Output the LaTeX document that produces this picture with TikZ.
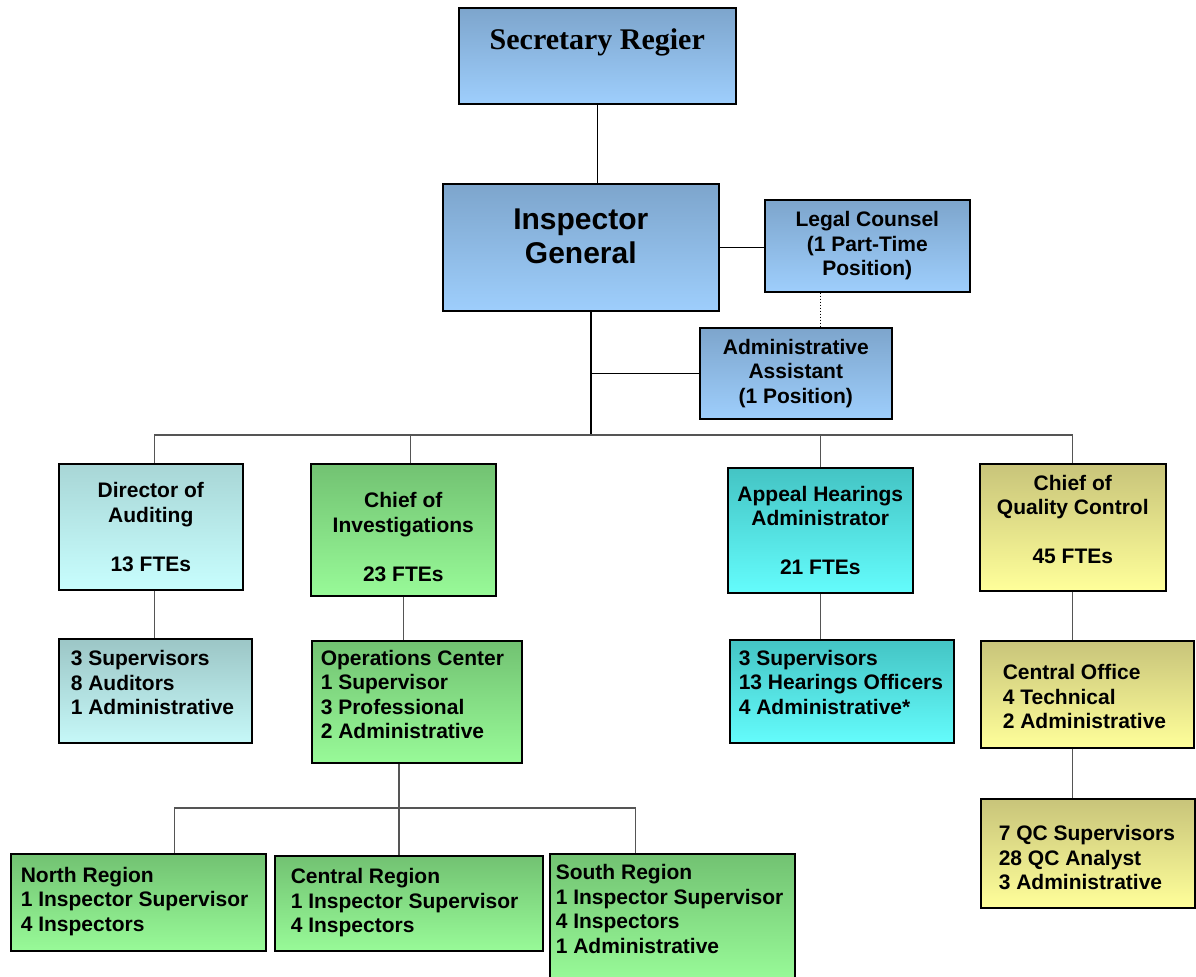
\documentclass[tikz,border=0pt]{standalone}
\usepackage{fontspec}
\setsansfont{Liberation Sans}
\newfontfamily\headserif{Liberation Serif}
\usetikzlibrary{positioning}
\definecolor{cBlueTop}{HTML}{7DA5CC}
\definecolor{cBlueBot}{HTML}{9ECEFC}
\definecolor{cAudTop}{HTML}{A8D6D6}
\definecolor{cAudBot}{HTML}{C8FEFE}
\definecolor{cAudSubTop}{HTML}{9CC6C6}
\definecolor{cAudSubBot}{HTML}{C6F8F8}
\definecolor{cInvTop}{HTML}{72C272}
\definecolor{cInvBot}{HTML}{98FA98}
\definecolor{cAppTop}{HTML}{44C4C4}
\definecolor{cAppBot}{HTML}{64FCFC}
\definecolor{cQcTop}{HTML}{C8C47A}
\definecolor{cQcBot}{HTML}{FFFF9A}
\definecolor{cLine}{HTML}{555555}
% invisible struts to nudge text inside a box
\newcommand{\padbelow}[1]{\rule[-#1]{0pt}{0pt}}
\newcommand{\padabove}[1]{\rule{0pt}{#1}}

\begin{document}
\begin{tikzpicture}[
    x=1bp, y=-1bp,
    % Core box styles
    box/.style={rectangle, draw=black, line width=1.6bp, inner sep=4bp, anchor=north west, font=\sffamily\bfseries\fontsize{21bp}{24.5bp}\selectfont},
    head_box/.style={box, align=center},
    list_box/.style={box, align=flush left},
    % Fills
    blue_fill/.style={top color=cBlueTop, bottom color=cBlueBot},
    aud_fill/.style={top color=cAudTop, bottom color=cAudBot},
    aud_sub_fill/.style={top color=cAudSubTop, bottom color=cAudSubBot},
    inv_fill/.style={top color=cInvTop, bottom color=cInvBot},
    app_fill/.style={top color=cAppTop, bottom color=cAppBot},
    qc_fill/.style={top color=cQcTop, bottom color=cQcBot},
    % Connector styles
    link/.style={line width=1.6bp, color=black},
    branch/.style={line width=1.1bp, color=cLine}
]
\useasboundingbox (0,0) rectangle (1196,977);

% --- TOP LEVEL ---
\node[head_box, blue_fill, minimum width=277bp, minimum height=96bp, text depth=34bp, font=\headserif\bfseries\fontsize{30bp}{34bp}\selectfont] (sec) at (458,7) {Secretary Regier};
\node[head_box, blue_fill, minimum width=276bp, minimum height=127bp, text depth=22bp, font=\sffamily\bfseries\fontsize{30bp}{34bp}\selectfont] (ig) at (442,183) {Inspector\\General};
\node[head_box, blue_fill, minimum width=205bp, minimum height=92bp] (legal) at (764,199) {Legal Counsel\\(1 Part-Time\\Position)};
\node[head_box, blue_fill, minimum width=192bp, minimum height=91bp] (adm) at (699,327) {Administrative\\Assistant\\(1 Position)};

% --- DIVISIONS ---
\node[head_box, aud_fill, minimum width=184bp, minimum height=126bp] (aud) at (58,463) {Director of\\Auditing\\[24.5bp]13 FTEs};
\node[head_box, inv_fill, minimum width=185bp, minimum height=132bp] (inv) at (310,463) {\padabove{30bp}Chief of\\Investigations\\[24.5bp]23 FTEs};
\node[head_box, app_fill, minimum width=185bp, minimum height=125bp] (app) at (727,467) {Appeal Hearings\\Administrator\\[24.5bp]21 FTEs};
\node[head_box, qc_fill, minimum width=186bp, minimum height=127bp] (qc) at (979,463) {Chief of\\Quality Control\\[24.5bp]45 FTEs\padbelow{16bp}};

% --- STAFF ---
\node[list_box, aud_sub_fill, inner xsep=12bp, text width=169bp, minimum height=104bp] (audsub) at (58,638) {3 Supervisors\\8 Auditors\\1 Administrative\padbelow{16bp}};
\node[list_box, inv_fill, inner xsep=9bp, text width=192bp, minimum height=122bp] (ops) at (311,640) {Operations Center\\1 Supervisor\\3 Professional\\2 Administrative\padbelow{15bp}};
\node[list_box, app_fill, inner xsep=9bp, text width=206bp, minimum height=103bp] (hsub) at (729,639) {3 Supervisors\\13 Hearings Officers\\4 Administrative*\padbelow{18bp}};
\node[list_box, qc_fill, inner xsep=22bp, text width=169bp, minimum height=107bp] (co) at (980,640) {\padabove{20bp}Central Office\\4 Technical\\2 Administrative};
\node[list_box, qc_fill, inner xsep=18bp, text width=178bp, minimum height=109bp] (qcsub) at (980,798) {\padabove{24bp}7 QC Supervisors\\28 QC Analyst\\3 Administrative};

% --- REGIONS ---
\node[list_box, inv_fill, inner xsep=10bp, text width=235bp, minimum height=97bp] (north) at (10,853) {North Region\\1 Inspector Supervisor\\4 Inspectors\padbelow{6bp}};
\node[list_box, inv_fill, inner xsep=16bp, text width=236bp, minimum height=95bp] (central) at (274,855) {Central Region\\1 Inspector Supervisor\\4 Inspectors\padbelow{5bp}};
\node[list_box, inv_fill, inner xsep=6bp, text width=233bp, minimum height=126bp] (south) at (549,853) {South Region\\1 Inspector Supervisor\\4 Inspectors\\1 Administrative\padbelow{16bp}};

% --- CONNECTORS ---
\coordinate (trunk) at (591,435);
\coordinate (split) at (399,808);

\draw[link] (sec.south) -- (sec.south |- ig.north);
\draw[link] (ig.east) -- (ig.east -| legal.west);
\draw[dotted, line width=1bp] ([xshift=-47bp]legal.south) -- ([xshift=-47bp]legal.south |- adm.north);
\draw[link] (trunk |- ig.south) -- (trunk);
\draw[link] (trunk |- adm.west) -- (adm.west);

\draw[branch] ([xshift=4bp]aud.north) |- (trunk) -| (qc.north);
\draw[branch] ([xshift=7bp]inv.north) -- ([xshift=7bp]inv.north |- trunk);
\draw[branch] (app.north) -- (app.north |- trunk);

\draw[branch] ([xshift=4bp]aud.south) -- ([xshift=4bp]aud.south |- audsub.north);
\draw[branch] (inv.south) -- (inv.south |- ops.north);
\draw[branch] (app.south) -- (app.south |- hsub.north);
\draw[branch] (qc.south) -- (qc.south |- co.north);
\draw[branch] (qc.south |- co.south) -- (qc.south |- qcsub.north);

\draw[branch] (split |- ops.south) -- (split);
\draw[branch] ([xshift=36bp]north.north) |- (split) -| ([xshift=-37bp]south.north);
\draw[branch] (split) -- (split |- central.north);

\end{tikzpicture}
\end{document}
